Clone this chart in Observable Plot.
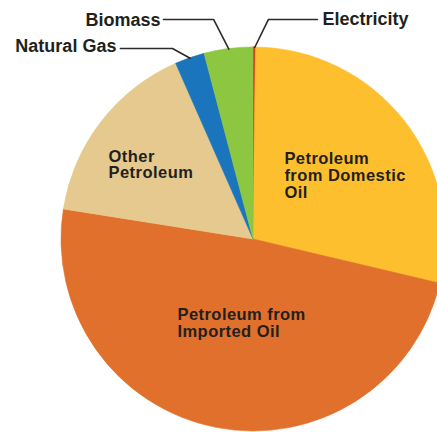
<!DOCTYPE html>
<html>
<head>
<meta charset="utf-8">
<script src="https://cdn.jsdelivr.net/npm/d3@7"></script>
<script src="https://cdn.jsdelivr.net/npm/@observablehq/plot@0.6"></script>
<style>
  html, body { margin: 0; padding: 0; background: #fff; }
  #chart { width: 437px; height: 432px; overflow: hidden; }
  .inside-label text { letter-spacing: 0.45px; }
</style>
</head>
<body>
<div id="chart"></div>
<script>
// ---- data ----
const categories = ["Electricity", "Petroleum from Domestic Oil", "Petroleum from Imported Oil", "Other Petroleum", "Natural Gas", "Biomass"];
const shares = [0.2, 28.5, 48.8, 15.9, 2.5, 4.1];
const sliceLabels = ["", "Petroleum\nfrom Domestic\nOil", "Petroleum from\nImported Oil", "Other\nPetroleum", "", ""];
const colors = ["#D9321F", "#FDBF2D", "#E0702B", "#E5C98F", "#1B75BC", "#8DC641"];

// ---- layout (data units, pie radius = 1) ----
const insideLabelPos = {
  "Petroleum from Domestic Oil": [0.161, 0.455],
  "Petroleum from Imported Oil": [-0.396, -0.354],
  "Other Petroleum": [-0.755, 0.469]
};
const callouts = [
  {name: "Biomass", elbow: [-0.208, 1.146], endX: -0.469, textX: -0.484, textY: 1.177, anchor: "end"},
  {name: "Natural Gas", elbow: [-0.422, 0.995], endX: -0.693, textX: -0.714, textY: 1.042, anchor: "end"},
  {name: "Electricity", elbow: [0.078, 1.146], endX: 0.333, textX: 0.359, textY: 1.182, anchor: "start"}
];

const rows = categories.map((c, i) => ({category: c, share: shares[i], color: colors[i], label: sliceLabels[i]}));
const pie = d3.pie().value(d => d.share).sort(null);
const arcs = pie(rows);
const midAngle = Object.fromEntries(arcs.map(a => [a.data.category, (a.startAngle + a.endAngle) / 2]));

const leaderPts = callouts.flatMap(c => {
  const a = midAngle[c.name];
  return [
    {name: c.name, x: Math.sin(a), y: Math.cos(a)},
    {name: c.name, x: c.elbow[0], y: c.elbow[1]},
    {name: c.name, x: c.endX, y: c.elbow[1]}
  ];
});

const insideRows = rows.filter(r => r.label).map(r => ({label: r.label, x: insideLabelPos[r.category][0], y: insideLabelPos[r.category][1]}));

function pieMark(index, scales) {
  const cx = scales.x(0), cy = scales.y(0);
  const r = scales.x(1) - scales.x(0);
  const arc = d3.arc().innerRadius(0).outerRadius(r);
  const g = d3.create("svg:g").attr("transform", `translate(${cx},${cy})`);
  g.selectAll("path").data(arcs).join("path")
    .attr("d", arc)
    .attr("fill", d => d.data.color)
    .attr("stroke", d => d.data.color)
    .attr("stroke-width", d => d.data.category === "Electricity" ? 1.2 : 0.6);
  return g.node();
}

const font = "'Liberation Sans', Arial, Helvetica, sans-serif";

const chart = Plot.plot({
  width: 437,
  height: 432,
  margin: 0,
  style: {background: "#fff"},
  x: {domain: [-1, 1], range: [61, 445], axis: null},
  y: {domain: [-1, 1], range: [431, 47], axis: null},
  marks: [
    pieMark,
    Plot.line(leaderPts, {x: "x", y: "y", z: "name", stroke: "#2b2b2b", strokeWidth: 1.6}),
    Plot.text(callouts.filter(c => c.anchor === "end"), {x: "textX", y: "textY", text: "name", textAnchor: "end", lineAnchor: "top", fontSize: 18, fontWeight: "bold", fontFamily: font, fill: "#231f20"}),
    Plot.text(callouts.filter(c => c.anchor === "start"), {x: "textX", y: "textY", text: "name", textAnchor: "start", lineAnchor: "top", fontSize: 18, fontWeight: "bold", fontFamily: font, fill: "#231f20"}),
    Plot.text(insideRows, {x: "x", y: "y", text: "label", textAnchor: "start", lineAnchor: "top", lineHeight: 1.03, fontSize: 16.5, fontWeight: "bold", fontFamily: font, fill: "#231f20", className: "inside-label"})
  ]
});
document.getElementById("chart").appendChild(chart);
</script>
</body>
</html>
